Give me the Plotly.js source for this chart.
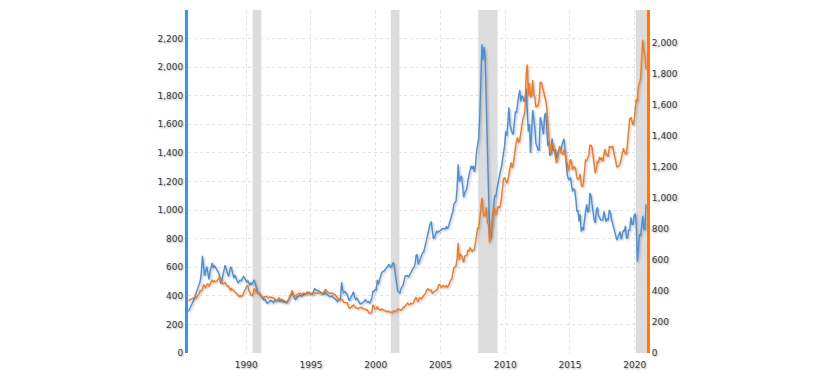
<!DOCTYPE html>
<html>
<head>
<meta charset="utf-8">
<script src="https://cdn.plot.ly/plotly-3.0.1.min.js"></script>
<style>
  html, body { margin: 0; padding: 0; background: #ffffff; }
  #chart { width: 828px; height: 378px; }
  .js-line { filter: drop-shadow(1px 1px 1px rgba(0,0,0,0.28)); }
</style>
</head>
<body>
<div id="chart"></div>
<script>
// Monthly series starting July 1985
const startYear = 1985;
const startMonth = 7;

// Platinum (left axis, blue) - monthly values
const platinum = [
  // 1985 Jul-Dec
  290, 305, 325, 345, 360, 370,
  // 1986
  395, 415, 430, 450, 480, 505, 560, 680, 600, 540, 575, 605,
  // 1987
  560, 515, 565, 610, 630, 595, 610, 600, 585, 570, 560, 530,
  // 1988
  485, 510, 545, 585, 615, 590, 560, 535, 565, 605, 590, 560,
  // 1989
  525, 545, 530, 510, 490, 500, 510, 505, 520, 535, 525, 505,
  // 1990
  495, 505, 485, 475, 490, 480, 500, 512, 485, 455, 430, 420,
  // 1991
  410, 395, 385, 378, 370, 375, 362, 348, 352, 360, 368, 363,
  // 1992
  360, 352, 372, 365, 362, 375, 370, 360, 366, 364, 355, 358,
  // 1993
  355, 350, 362, 378, 388, 402, 418, 410, 395, 372, 382, 396,
  // 1994
  395, 405, 400, 398, 406, 410, 414, 410, 420, 422, 425, 412,
  // 1995
  415, 420, 432, 450, 442, 440, 438, 436, 430, 420, 415, 410,
  // 1996
  415, 428, 412, 405, 405, 395, 395, 400, 390, 385, 380, 372,
  // 1997
  360, 365, 375, 385, 495, 435, 420, 430, 420, 410, 390, 365,
  // 1998
  380, 395, 410, 428, 390, 375, 385, 370, 355, 345, 345, 348,
  // 1999
  355, 362, 375, 360, 355, 360, 350, 362, 385, 432, 430, 445,
  // 2000
  440, 512, 480, 510, 540, 560, 570, 572, 580, 590, 600, 612,
  // 2001
  622, 600, 602, 620, 635, 590, 530, 460, 432, 425, 420, 452,
  // 2002
  462, 478, 512, 540, 538, 542, 530, 548, 560, 572, 592, 598,
  // 2003
  622, 682, 690, 620, 640, 662, 690, 702, 706, 742, 770, 812,
  // 2004
  850, 872, 902, 920, 830, 798, 810, 842, 852, 845, 850, 858,
  // 2005
  862, 866, 872, 870, 868, 882, 870, 886, 910, 935, 965, 992,
  // 2006
  1040, 1052, 1062, 1150, 1320, 1200, 1222, 1240, 1180, 1090, 1120, 1140,
  // 2007
  1150, 1210, 1240, 1290, 1310, 1290, 1310, 1268, 1310, 1410, 1452, 1500,
  // 2008
  1650, 2020, 2160, 2050, 2140, 2060, 1800, 1450, 1120, 860, 800, 900,
  // 2009
  980, 1050, 1100, 1100, 1150, 1200, 1230, 1270, 1300, 1340, 1400, 1450,
  // 2010
  1550, 1520, 1600, 1720, 1600, 1560, 1540, 1530, 1620, 1690, 1680, 1750,
  // 2011
  1800, 1840, 1760, 1800, 1790, 1760, 1780, 1850, 1680, 1550, 1600, 1400,
  // 2012
  1550, 1700, 1640, 1580, 1470, 1450, 1420, 1420, 1650, 1620, 1570, 1530,
  // 2013
  1660, 1680, 1580, 1450, 1480, 1380, 1400, 1500, 1420, 1420, 1420, 1360,
  // 2014
  1400, 1420, 1430, 1420, 1450, 1480, 1500, 1420, 1300, 1250, 1220, 1210,
  // 2015
  1230, 1190, 1130, 1150, 1140, 1080, 990, 1000, 920, 970, 850, 880,
  // 2016
  860, 930, 970, 1040, 990, 990, 1120, 1100, 1040, 960, 930, 910,
  // 2017
  1000, 1020, 960, 950, 930, 930, 930, 990, 940, 920, 940, 930,
  // 2018
  1000, 980, 940, 910, 900, 860, 830, 790, 810, 840, 850, 795,
  // 2019
  820, 860, 850, 890, 800, 810, 860, 860, 950, 900, 900, 960,
  // 2020 Jan-Nov
  975, 900, 640, 760, 830, 820, 920, 960, 870, 860, 1040
];

// Gold (right axis, orange) - monthly values
const gold = [
  // 1985 Jul-Dec
  338, 342, 348, 350, 352, 355,
  // 1986
  360, 355, 365, 372, 382, 402, 400, 410, 440, 430, 420, 442,
  // 1987
  445, 430, 440, 460, 470, 460, 465, 460, 462, 470, 485, 492,
  // 1988
  470, 450, 445, 450, 455, 440, 430, 430, 410, 405, 415, 405,
  // 1989
  402, 395, 385, 380, 375, 365, 370, 365, 370, 382, 400, 416,
  // 1990
  432, 436, 405, 385, 375, 370, 380, 416, 405, 395, 385, 385,
  // 1991
  385, 375, 360, 360, 360, 365, 365, 360, 355, 360, 360, 360,
  // 1992
  355, 355, 345, 340, 340, 345, 355, 345, 345, 345, 340, 335,
  // 1993
  330, 330, 335, 345, 370, 380, 405, 375, 360, 370, 375, 385,
  // 1994
  385, 380, 385, 375, 385, 385, 385, 380, 395, 390, 385, 380,
  // 1995
  375, 375, 385, 390, 385, 388, 385, 385, 385, 385, 385, 387,
  // 1996
  400, 412, 398, 393, 390, 385, 385, 388, 380, 380, 375, 368,
  // 1997
  355, 345, 350, 343, 345, 340, 325, 325, 325, 325, 305, 290,
  // 1998
  290, 297, 297, 310, 298, 292, 292, 285, 290, 295, 295, 290,
  // 1999
  287, 288, 285, 283, 275, 262, 255, 257, 265, 310, 295, 285,
  // 2000
  285, 300, 285, 280, 275, 285, 282, 275, 273, 270, 265, 272,
  // 2001
  265, 262, 263, 260, 272, 270, 268, 272, 285, 283, 276, 276,
  // 2002
  282, 295, 295, 302, 315, 322, 314, 310, 320, 317, 320, 335,
  // 2003
  355, 360, 340, 330, 355, 355, 350, 360, 378, 380, 390, 410,
  // 2004
  415, 405, 405, 405, 385, 393, 398, 400, 405, 420, 440, 440,
  // 2005
  425, 425, 435, 430, 425, 435, 425, 435, 455, 470, 475, 510,
  // 2006
  550, 555, 560, 610, 710, 600, 635, 630, 600, 585, 625, 630,
  // 2007
  630, 665, 655, 680, 665, 655, 665, 665, 710, 755, 805, 805,
  // 2008
  890, 930, 1000, 910, 885, 890, 940, 840, 830, 712, 760, 815,
  // 2009
  860, 940, 925, 890, 930, 945, 935, 950, 995, 1045, 1125, 1130,
  // 2010
  1115, 1095, 1115, 1150, 1205, 1230, 1195, 1215, 1270, 1340, 1370, 1390,
  // 2011
  1355, 1375, 1425, 1475, 1510, 1530, 1570, 1800, 1860, 1660, 1740, 1650,
  // 2012
  1655, 1760, 1670, 1650, 1585, 1595, 1595, 1630, 1745, 1745, 1720, 1685,
  // 2013
  1670, 1630, 1590, 1485, 1415, 1300, 1285, 1350, 1350, 1315, 1275, 1225,
  // 2014
  1245, 1300, 1335, 1300, 1290, 1280, 1310, 1295, 1240, 1225, 1175, 1200,
  // 2015
  1250, 1230, 1180, 1200, 1200, 1180, 1130, 1120, 1125, 1155, 1085, 1070,
  // 2016
  1095, 1200, 1245, 1240, 1260, 1275, 1340, 1340, 1325, 1265, 1240, 1160,
  // 2017
  1190, 1235, 1230, 1265, 1245, 1260, 1235, 1285, 1315, 1280, 1280, 1265,
  // 2018
  1330, 1330, 1325, 1335, 1305, 1280, 1240, 1200, 1200, 1215, 1220, 1250,
  // 2019
  1290, 1320, 1300, 1285, 1285, 1360, 1415, 1510, 1520, 1500, 1470, 1490,
  // 2020 Jan-Nov
  1580, 1640, 1620, 1720, 1740, 1770, 1900, 2020, 1950, 1920, 1830
];

// Recession periods (shaded bands)
const recessionStart = ["1990-07-01", "2001-03-01", "2007-12-01", "2020-02-01"];
const recessionEnd   = ["1991-03-01", "2001-11-01", "2009-06-01", "2020-12-13"];

// Axis ticks
const leftTicks  = [0, 200, 400, 600, 800, 1000, 1200, 1400, 1600, 1800, 2000, 2200, 2400];
const rightTicks = [0, 200, 400, 600, 800, 1000, 1200, 1400, 1600, 1800, 2000];
const xTickYears = [1990, 1995, 2000, 2005, 2010, 2015, 2020];

function monthDates(n) {
  const out = [];
  for (let i = 0; i < n; i++) {
    const m0 = startMonth - 1 + i;
    const y = startYear + Math.floor(m0 / 12);
    const m = (m0 % 12) + 1;
    out.push(y + "-" + String(m).padStart(2, "0") + "-15");
  }
  return out;
}

const blue = "#4b8fd8";
const orange = "#f27a24";
const fmt = v => v.toLocaleString("en-US");

const traces = [
  {
    x: monthDates(platinum.length), y: platinum, type: "scatter", mode: "lines",
    line: { color: blue, width: 1.4 }, yaxis: "y", name: "Platinum", hoverinfo: "skip"
  },
  {
    x: monthDates(gold.length), y: gold, type: "scatter", mode: "lines",
    line: { color: orange, width: 1.4 }, yaxis: "y2", name: "Gold", hoverinfo: "skip"
  }
];

const shapes = recessionStart.map((s, i) => ({
  type: "rect", xref: "x", yref: "paper", x0: s, x1: recessionEnd[i], y0: 0, y1: 1,
  fillcolor: "#dcdcdc", line: { width: 0 }, layer: "below"
}));

const tickFont = {
  family: "DejaVu Sans, Verdana, sans-serif", size: 9, color: "#3a3a3a",
  shadow: "1px 1px 2px rgba(0,0,0,0.35)"
};

const layout = {
  width: 828, height: 378,
  margin: { l: 188, r: 181, t: 10, b: 25, pad: 0 },
  paper_bgcolor: "#ffffff", plot_bgcolor: "#ffffff",
  showlegend: false,
  shapes: shapes,
  xaxis: {
    type: "date",
    range: ["1985-07-04", "2020-12-13"],
    tickvals: xTickYears.map(y => y + "-01-01"),
    ticktext: xTickYears.map(String),
    showgrid: true, gridcolor: "#e2e2e2", griddash: "3px,3px", gridwidth: 1,
    zeroline: false, showline: false, ticks: "",
    ticklabelstandoff: 5,
    tickfont: tickFont
  },
  yaxis: {
    range: [0, 2400],
    tickvals: leftTicks,
    ticktext: leftTicks.map((v, i) => i === leftTicks.length - 1 ? "" : fmt(v)),
    showgrid: true, gridcolor: "#e2e2e2", griddash: "3px,3px", gridwidth: 1,
    zeroline: false, showline: true, linecolor: blue, linewidth: 3,
    ticks: "", tickfont: tickFont
  },
  yaxis2: {
    range: [0, 2212],
    overlaying: "y", side: "right",
    tickvals: rightTicks, ticktext: rightTicks.map(fmt),
    showgrid: false, zeroline: false,
    showline: true, linecolor: orange, linewidth: 3,
    ticks: "", tickfont: tickFont
  }
};

Plotly.newPlot("chart", traces, layout, { displayModeBar: false, staticPlot: true });
</script>
</body>
</html>
